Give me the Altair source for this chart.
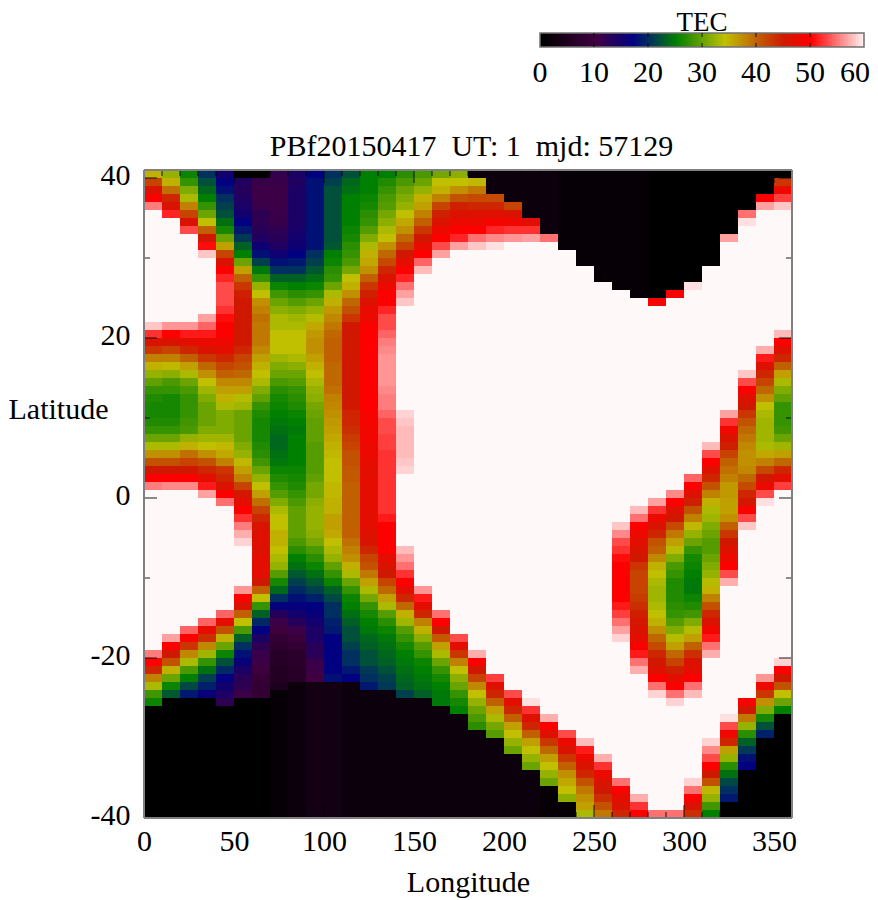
import altair as alt
import pandas as pd

FONT = "Liberation Serif"
TITLE = "PBf20150417\u00a0 UT: 1\u00a0 mjd: 57129"

stops = [0, 10, 17, 20, 25, 34, 40, 45, 50, 60]
stop_colors = ["#000000", "#400040", "#000080", "#003060", "#008000", "#c0c000",
               "#c06000", "#d01800", "#ff0000", "#fff8f8"]

# TEC, one list per 10-degree longitude cell, from the top row (north) down
tec_000 = [35,42,46,50,55] + [60]*14 + [58,52,46,43,38,35,32,29.5,27.5,26.5,26,26,26.5,27.5,30,33,37,41,45,50,55] + [60]*20 + [55,50,44,38,33,28,25.5] + [0]*14
tec_010 = [32,35,39,44,46,51.5] + [60]*13 + [56,50,46,42,38,34.5,31.5,28.5,27.5,26,26,26,26.5,27.5,30,33,37,41,45,50,55.5] + [60]*18 + [56.5,50,45,41,35,30,25.5,22.5] + [0]*15
tec_020 = [25.5,27.5,31,33,38,42,46,53] + [60]*11 + [56,51,47,44,40,36,33,30,28.5,27.5,27.5,27.5,28,28.5,32,35,39,42,45,50,55.5] + [60]*17 + [54,49.5,43,37.5,33,28.5,25,21.5,18.5] + [0]*15
tec_030 = [20,22,23.5,25,27.5,30,34,40,45,50.5,58] + [60]*7 + [56.5,54,51,48,46,43,39.5,37,34,32.5,31,30,30,30,31,32.5,34,37,41,44,47,51,56.5] + [60]*15 + [54,47.5,43.5,37.5,32.5,27.5,24,21,19,16] + [0]*15
tec_040 = [15,17,18,20,21,22,24,26,30,36,42,46,50,51.5,53,53,53,52,50.5] + [50,50,48,47,44,42,40,37.5,36,35,33,31,31,31,32.5,34.5,35.5,38,43,44,46,50,54.5] + [60]*13 + [54,47,41,35,30,25.5,22,19.5,17,15,14,12] + [0]*14
tec_050 = [0,13.5,13,13.5,14,15,17,18.5,20.5,23,25,30,36,40,43,44.5,45,45,45] + [45,45,45,44,42,41,39.5,37.5,36,33.5,32.5,30,30,30,30,31,32,34.5,36,38,42,45.5,47,50,52,55,57,58.5] + [60]*5 + [56,50,46,40,34,28.5,23,20,18,16,14,12.5,12,10.5] + [0]*15
tec_060 = [0,11,10.5,10.5,11,12,12,12.5,13.5,15.5,18,21,24.5,27.5,32,34,37,38,39] + [38.5,38.5,38.5,37.5,36,35,34,33,31,29.5,27.5,26.5,26,26,26,26.5,27,28,30,32,34,36,39,42,44,46,46.5,46.5,46.5,47] + [47,47,45,40,34] + [27.5,23,19.5,17,14,12,11,10.5,9.5,8.5,8,8] + [0]*15
tec_070 = [11.5,11,10.5,10.5,10.5,11,11,12,12.5,13.5,15.5,18,20,23,25.5,28,30,31.5,33] + [33,34,34,34,32.5,31,30,28.5,27,26,25.5,25,24.5,24,23.5,23.5,24,24.5,25.5,26.5,27.5,29,31,33,34,34,35,35,34,33] + [32,29,26,23.5,20,16.5,13,10.5,9.5,8,7,6,6,5.5,5.5,4.5] + [1]*16
tec_080 = [14,13.5,14,14,14,14,14,14.5,15,15.5,17,18.5,20,23,25,27,29,31,32.5] + [33,34,34,34,33,31.5,30,29,27.5,27,26.5,25.5,25,24.5,25,25,25,25,25.5,26,26.5,27.5,28.5,29.5,29.5,29.5,29.5,28.5,27,25] + [24,22.5,21,19.5,18] + [16.5,15,13,10.5,9,8,6.5,6.5,6,6] + [2]*17
tec_090 = [17,18,18,18,18,18,18,18,18,18,20,21,22.5,24,25.5,27.5,30,32,33.5] + [35.5,36.5,37,37,36,35,34,33,32,31.5,30.5,30,29.5,29.5,29.5,29,29,29,29,29.5,30.5,30.5,31.5,32,32,32,31.5,30.5,28.5,27] + [25.5,24,22.5,21,19] + [17,16,15,14,14,12.5,12.5,11,10.5,10] + [3]*17
tec_100 = [20,21,22,22,22,22,22,22,22,22.5,25,25.5,27,27.5,30,33,35,36.5,37.5] + [38.5,39.5,40,40,40,39.5,39.5,39.5,39,38,37.5,37,36.5,36,35.5,35,34.5,34,34,34,34.5,34.5,35,35,36,36,35.5,34,33,32] + [29.5,27.5,25.5,23,21.5] + [20,20,19,18.5,17,17,17,17,17,18] + [3]*17
tec_110 = [22,23.5,24,25,25,25,25,25.5,26,27,27.5,28.5,30.5,34,35,37,39.5,41,43] + [45]*11 + [44,44,43.5,42.5,42,41,41,40.5,40.5,40,40,40,40,40,40,40,39,38,37] + [35,33,30,27.5,25.5,25,24,23,22,22,21,20,20,18.5,17] + [2]*17
tec_120 = [25,25,25,25.5,26,27,27.5,29,31,33,35,35.5,37,40,43,44.5,46.5,47.5,48] + [49.5] + [50]*10 + [49,49,48.5,48.5,48,48,47.5,47,47,47,47,47,47,47,47,46.5,46,44,42] + [41,38.5,36,33,30.5,27.5,26,25,24.5,23.5,23,22,22,20.5,20,18.5] + [2]*16
tec_130 = [25,26.5,27.5,28.5,29,30.5,31.5,33,34,37,39.5,41.5,44,46,48,50,50,51.5,53] + [53,54,55,55.5,56,56,56,56,55.5,55,55,54,53,53,52.5,52.5,52,52,52,52,52,52,52,52,51,50,50,50,50,47] + [46,45,42,39.5,36,33,29,27,25.5,24.5,24,23.5,23,22,21,20.5] + [2]*16
tec_140 = [27,28.5,30,31,32,34,35.5,37,39.5,42,45,47,50,51.5,54.5,56.5,58] + [60]*13 + [58.5,58,57.5,57.5,57.5,57.5,58,58.5] + [60]*9 + [57.5,56] + [54.5,52,50,47,44,39.5,35,32.5,29,27.5,26,25,24.5,24,23.5,23,21] + [2]*15
tec_150 = [28.5,30,32,35,36,38,40,43,45,47.5,50,54,57.5] + [60]*39 + [56,51,47,44,38,35,31.5,29,27.5,25.5,25,24.5,24,23] + [2]*15
tec_160 = [30.5,34,35,38,42,44.5,46,48,49.5,53,56.5] + [60]*44 + [54.5,50,45,40.5,36,33,30,27.5,26,25,24.5,24.5] + [2]*14
tec_170 = [31.5,34,37,41,44.5,46,48,50,51.5,56.5] + [60]*48 + [53,47,43,38,34,31.5,30,27.5,26,25] + [2]*13
tec_180 = [2,34.5,38.5,41.5,44,46.5,48,50,54.5,58] + [60]*50 + [57,50,45,42,37.5,34,32,30,28.5,27] + [2]*11
tec_190 = [2,2,2,41.5,44,46.5,49,51.5,55.5,59] + [60]*53 + [52.5,46.5,44,40,36,33,30.5,29] + [2]*10
tec_200 = [2,2,2,2,42,46,48.5,52,56] + [60]*56 + [53,47,44,40,36,34,32,30] + [2]*8
tec_210 = [2]*6 + [47,52,56.5] + [60]*57 + [59,52,46.5,44,40,36,34,32,30] + [2]*6
tec_220 = [2]*8 + [54.5] + [60]*59 + [57,50,46.5,43,39.5,36,34,32,30] + [1]*4
tec_230 = [1]*10 + [60]*60 + [53,48,46,43,40,37,35.5,34,31.5] + [1]*2
tec_240 = [1]*12 + [60]*59 + [57.5,51,48,46,44,41,38.5,37,36,33]
tec_250 = [1]*14 + [60]*59 + [57,52,48,46,45,43.5,41,38.5]
tec_260 = [1]*15 + [60]*29 + [58,55.5,53,52,50.5,50,50,50,50,50,51,52.5,54.5,56.5,58.5] + [60]*17 + [54.5,50,47,46,44]
tec_270 = [1]*16 + [60]*26 + [57.5,54.5,50,48,47,46,45,43,42,42,42,42.5,43.5,44.5,45.5,46,47,49.5,51,54.5,57] + [60]*15 + [57,52,49.5]
tec_280 = [0]*16 + [49.5] + [60]*24 + [56.5,52,48,46,44,41,40,37.5,35,34,33,32.5,32.5,33,34,35,37,39.5,41.5,44,45,46.5,50,54.5,58.5] + [60]*14 + [54.5]
tec_290 = [0]*15 + [49.5] + [60]*24 + [55.5,50,46.5,45,41.5,38.5,36,33.5,31,28.5,27.5,26.5,26.5,26.5,27,27.5,29,31,33.5,36,39.5,42,44.5,47,50,54.5,58.5] + [60]*13 + [54.5]
tec_300 = [0]*14 + [59] + [60]*23 + [54,50,46.5,44.5,41,38,34.5,32,30,27.5,26,25.5,25,24.5,24.5,25.5,26.5,28,31,33.5,36,40,43.5,46,47,50,54.5,57.5] + [60]*10 + [58.5,54.5,50,46,43.5]
tec_310 = [0]*12 + [60]*22 + [57.5,53,50,46.5,44,41,38,35,33,32.5,31,30,29,29,30,31,32,33.5,35,38,41,44,46,48.5,51,54.5,57] + [60]*10 + [58.5,55.5,53,50,45,41,34.5,32,28,25]
tec_320 = [0]*8 + [56.5] + [60]*21 + [56.5,52,48.5,46,44.5,42,40,39,38,36.5,36.5,36,36,37,40,43,45,46.5,48,50,53,57] + [60]*16 + [59,53,48.5,44,36,32,27,24,21.5,20,18.5] + [0]*2
tec_330 = [0]*5 + [54.5,59] + [60]*18 + [58,53,50,46.5,45,43,41,39.5,38.5,37.5,37,37,37.5,39.5,41.5,44,45.5,49.5,53,58] + [60]*21 + [49.5,45,38.5,32,27,23,20.5,18,17] + [0]*6
tec_340 = [0]*3 + [50,56.5] + [60]*17 + [57,51,46.5,44,42,39.5,37,34,33,32.5,32.5,32.5,33,35.5,38,41.5,45,48,53,59] + [60]*21 + [56,48,43,37,31,26,22,19] + [0]*10
tec_350 = [0,43,48,52.5,58] + [60]*15 + [57.5,50,46.5,44,40,36,33,31,29.5,27.5,27.5,27.5,28,30,32.5,36,39.5,44,47,52.5] + [60]*21 + [58.5,50,45,41,34,30,25] + [0]*13

columns = [tec_000, tec_010, tec_020, tec_030, tec_040, tec_050, tec_060, tec_070, tec_080,
           tec_090, tec_100, tec_110, tec_120, tec_130, tec_140, tec_150, tec_160, tec_170,
           tec_180, tec_190, tec_200, tec_210, tec_220, tec_230, tec_240, tec_250, tec_260,
           tec_270, tec_280, tec_290, tec_300, tec_310, tec_320, tec_330, tec_340, tec_350]

rows = []
for j, col in enumerate(columns):
    assert len(col) == 81, (j * 10, len(col))
    for i, v in enumerate(col):
        rows.append({"lon": j * 10, "lon2": (j + 1) * 10, "lat": 41 - i, "lat2": 40 - i, "tec": v})
cells = pd.DataFrame(rows)

lon_major = [50, 100, 150, 200, 250, 300, 350]
lon_minor = [10, 20, 30, 40, 60, 70, 80, 90, 110, 120, 130, 140, 160, 170, 180, 190, 210, 220,
             230, 240, 260, 270, 280, 290, 310, 320, 330, 340]
lat_major = [-20, 0, 20, 40]
lat_minor = [-30, -10, 10, 30]
lon_edges = [0, 360]
lat_edges = [-40, 41]
lon_labels = [0, 50, 100, 150, 200, 250, 300, 350]
lat_labels = [-40, -20, 0, 20, 40]
bar_labels = [0, 10, 20, 30, 40, 50]
bar_last_label = [60]
bar_ticks = [10, 20, 30, 40, 50]
bar_levels = [v / 2 for v in range(0, 120)]
bar_title = ["TEC"]

xs = alt.Scale(domain=[0, 360], nice=False, zero=False)
ys = alt.Scale(domain=[-40, 41], nice=False, zero=False)
bar_x = alt.Scale(domain=[0, 60], range=[396, 720], nice=False, zero=False)
color_scale = alt.Scale(domain=stops, range=stop_colors, interpolate="rgb", clamp=True)

heat = alt.Chart(cells).mark_rect().encode(
    x=alt.X("lon:Q", scale=xs, axis=alt.Axis(
        values=lon_labels, title="Longitude", grid=False, ticks=False, labelFlush=False,
        domain=False, labelFont=FONT, labelFontSize=30, labelColor="black", labelPadding=8,
        titleFont=FONT, titleFontSize=30, titleFontWeight="normal", titleColor="black",
        titleX=324, titleY=73, titleAlign="center", titleBaseline="alphabetic")),
    x2="lon2:Q",
    y=alt.Y("lat:Q", scale=ys, axis=alt.Axis(
        values=lat_labels, title="Latitude", grid=False, ticks=False, domain=False, labelFlush=False,
        labelFont=FONT, labelFontSize=30, labelColor="black", labelPadding=14, labelOffset=-3,
        labelExpr="'' + datum.value",
        titleFont=FONT, titleFontSize=30, titleFontWeight="normal", titleColor="black",
        titleAngle=0, titleX=-136, titleY=239, titleAlign="left", titleBaseline="middle")),
    y2="lat2:Q",
    color=alt.Color("tec:Q", scale=color_scale, legend=None),
)

TICK = dict(color="black", opacity=0.6, strokeWidth=1.5)


def xticks(values, top, bottom):
    df = pd.DataFrame({"v": values})
    return alt.Chart(df).mark_rule(**TICK).encode(
        x=alt.X("v:Q", scale=xs, axis=None), y=alt.value(top), y2=alt.value(bottom))


def yticks(values, left, right):
    df = pd.DataFrame({"v": values})
    return alt.Chart(df).mark_rule(**TICK).encode(
        y=alt.Y("v:Q", scale=ys, axis=None), x=alt.value(left), x2=alt.value(right))


frame_x = alt.Chart(pd.DataFrame({"v": lon_edges})).mark_rule(color="#808080", strokeWidth=2).encode(
    x=alt.X("v:Q", scale=xs, axis=None))
frame_y = alt.Chart(pd.DataFrame({"v": lat_edges})).mark_rule(color="#808080", strokeWidth=2).encode(
    y=alt.Y("v:Q", scale=ys, axis=None))

TEXT = dict(font=FONT, fontSize=30, color="black", baseline="alphabetic")

# plot title, as text over the middle longitude
plot_title = alt.Chart(pd.DataFrame({"v": [180], "t": [TITLE]})).mark_text(align="center", dx=3.5, **TEXT).encode(
    x=alt.X("v:Q", scale=xs, axis=None), y=alt.value(-14), text="t:N")

# colour bar above the plot
bar_df = pd.DataFrame({"v": bar_levels, "v2": [v + 0.75 if v < 59.5 else 60 for v in bar_levels]})
bar = alt.Chart(bar_df).mark_rect().encode(
    x=alt.X("v:Q", scale=bar_x, axis=None), x2="v2:Q",
    y=alt.value(-137), y2=alt.value(-123),
    color=alt.Color("v:Q", scale=color_scale, legend=None),
)
bar_frame = alt.Chart(pd.DataFrame({"a": [0], "b": [60]})).mark_rect(
    fill=None, stroke="#707070", strokeWidth=1.5).encode(
    x=alt.X("a:Q", scale=bar_x, axis=None), x2="b:Q", y=alt.value(-137), y2=alt.value(-123))
bar_tick_t = alt.Chart(pd.DataFrame({"v": bar_ticks})).mark_rule(**TICK).encode(
    x=alt.X("v:Q", scale=bar_x, axis=None), y=alt.value(-137), y2=alt.value(-133))
bar_tick_b = alt.Chart(pd.DataFrame({"v": bar_ticks})).mark_rule(**TICK).encode(
    x=alt.X("v:Q", scale=bar_x, axis=None), y=alt.value(-127), y2=alt.value(-123))
bar_text = alt.Chart(pd.DataFrame({"v": bar_labels})).mark_text(align="center", **TEXT).encode(
    x=alt.X("v:Q", scale=bar_x, axis=None), y=alt.value(-88), text="v:Q")
bar_text_last = alt.Chart(pd.DataFrame({"v": bar_last_label})).mark_text(align="right", dx=6, **TEXT).encode(
    x=alt.X("v:Q", scale=bar_x, axis=None), y=alt.value(-88), text="v:Q")
bar_head = alt.Chart(pd.DataFrame({"v": [30], "t": bar_title})).mark_text(
    align="center", font=FONT, fontSize=27, color="black", baseline="alphabetic").encode(
    x=alt.X("v:Q", scale=bar_x, axis=None), y=alt.value(-139), text="t:N")

chart = alt.layer(
    heat,
    xticks(lon_major, 0, 13), xticks(lon_major, 635, 648),
    xticks(lon_minor, 0, 6), xticks(lon_minor, 642, 648),
    yticks(lat_major, 0, 13), yticks(lat_major, 635, 648),
    yticks(lat_minor, 0, 6), yticks(lat_minor, 642, 648),
    frame_x, frame_y, plot_title,
    bar, bar_frame, bar_tick_t, bar_tick_b, bar_text, bar_text_last, bar_head,
).resolve_scale(x="independent", y="independent").properties(
    width=648, height=648,
    autosize=alt.AutoSizeParams(type="none"),
    padding={"left": 136, "top": 162, "right": 78, "bottom": 80},
    background="white",
).configure_view(stroke=None)

chart.save("out.html", embed_options={"renderer": "svg", "actions": False})
